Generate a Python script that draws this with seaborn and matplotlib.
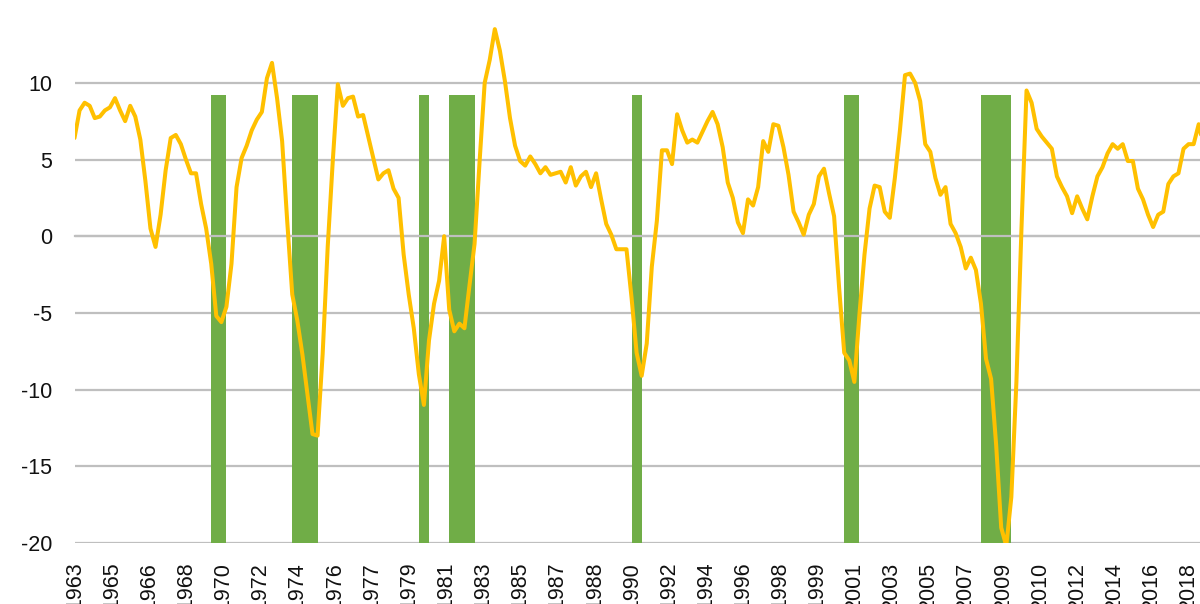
import numpy as np
import pandas as pd
import matplotlib
matplotlib.use("Agg")
import matplotlib.pyplot as plt
import seaborn as sns

# ---- data (quarterly, starting 1963Q1) ----
start_quarter = "1963Q1"
values = [
    6.4, 8.2, 8.7, 8.5, 7.7, 7.8, 8.2, 8.4, 9.0, 8.2,
    7.5, 8.5, 7.8, 6.3, 3.6, 0.5, -0.7, 1.4, 4.3, 6.4,
    6.6, 6.0, 5.0, 4.1, 4.1, 2.1, 0.5, -1.8, -5.2, -5.6,
    -4.6, -1.8, 3.2, 5.1, 5.9, 6.9, 7.6, 8.1, 10.3, 11.3,
    9.0, 6.2, 1.0, -3.8, -5.5, -7.7, -10.3, -12.9, -13.0, -7.7,
    -0.7, 4.9, 9.9, 8.5, 9.0, 9.1, 7.8, 7.9, 6.5, 5.1,
    3.7, 4.1, 4.3, 3.1, 2.5, -1.2, -3.8, -6.0, -9.0, -11.0,
    -6.8, -4.4, -2.9, 0.0, -4.8, -6.2, -5.7, -6.0, -3.2, -0.5,
    4.9, 10.0, 11.5, 13.5, 12.1, 10.1, 7.7, 5.9, 4.9, 4.6,
    5.2, 4.7, 4.1, 4.5, 4.0, 4.1, 4.2, 3.5, 4.5, 3.3,
    3.9, 4.2, 3.2, 4.1, 2.4, 0.8, 0.1, -0.85, -0.85, -0.85,
    -4.0, -7.6, -9.1, -7.0, -2.0, 1.0, 5.6, 5.6, 4.7, 7.95,
    6.9, 6.1, 6.3, 6.1, 6.8, 7.5, 8.1, 7.3, 5.8, 3.5,
    2.5, 0.9, 0.2, 2.4, 2.0, 3.2, 6.2, 5.5, 7.3, 7.2,
    5.8, 4.0, 1.6, 0.9, 0.1, 1.4, 2.1, 3.9, 4.4, 2.8,
    1.3, -3.4, -7.6, -8.1, -9.5, -5.1, -1.2, 1.8, 3.3, 3.2,
    1.6, 1.2, 3.8, 6.9, 10.5, 10.6, 10.0, 8.8, 6.0, 5.5,
    3.8, 2.7, 3.2, 0.8, 0.2, -0.7, -2.1, -1.4, -2.2, -4.4,
    -8.0, -9.3, -13.6, -19.0, -20.2, -17.0, -9.5, 0.5, 9.5, 8.7,
    7.0, 6.5, 6.1, 5.7, 3.9, 3.2, 2.6, 1.5, 2.6, 1.8,
    1.1, 2.6, 3.9, 4.5, 5.4, 6.0, 5.7, 6.0, 4.9, 4.9,
    3.1, 2.4, 1.4, 0.6, 1.4, 1.6, 3.4, 3.9, 4.1, 5.7,
    6.0, 6.0, 7.3, 5.8,
]

recession_starts = ["1969-12", "1973-12", "1980-03", "1981-09", "1990-09", "2001-03", "2007-12"]
recession_ends = ["1970-09", "1975-03", "1980-09", "1982-12", "1991-03", "2001-12", "2009-06"]
recession_bar_top = 9.2

tick_labels = ["1963", "1965", "1966", "1968", "1970", "1972", "1974", "1976", "1977",
               "1979", "1981", "1983", "1985", "1987", "1988", "1990", "1992", "1994",
               "1996", "1998", "1999", "2001", "2003", "2005", "2007", "2009", "2010",
               "2012", "2014", "2016", "2018"]
tick_step_months = 22
y_ticks = [-20, -15, -10, -5, 0, 5, 10]

# ---- derived positions (months since first quarter-end, March 1963) ----
quarters = pd.period_range(start_quarter, periods=len(values), freq="Q")
base = pd.Period("1963-03", freq="M")


def month_offset(p):
    return (p.year - base.year) * 12 + (p.month - base.month)


x_months = np.array([month_offset(q.asfreq("M", how="end")) for q in quarters])
df = pd.DataFrame({"month": x_months, "value": values})

rec_start = np.array([month_offset(pd.Period(s, freq="M")) for s in recession_starts])
rec_end = np.array([month_offset(pd.Period(s, freq="M")) for s in recession_ends])
tick_pos = np.arange(len(tick_labels)) * tick_step_months

# ---- styling ----
sns.set_style("white")
plt.rcParams["font.family"] = ["Liberation Sans", "DejaVu Sans"]

W, H = 1200, 604
fig = plt.figure(figsize=(W / 100, H / 100), dpi=100)
left_px, bottom_px = 74.5, 543.0
px_per_unit = 15.34
y_lo, y_hi = -20, 14.0
px_per_month = 1.688
ax = fig.add_axes([left_px / W, (H - bottom_px) / H,
                   1 - left_px / W, (y_hi - y_lo) * px_per_unit / H])

grid_color = "#BFBFBF"

# recession bars
ax.bar(rec_start, recession_bar_top - y_lo, width=rec_end - rec_start,
       bottom=y_lo, align="edge", color="#70AD47", linewidth=0, zorder=1)

# main line
sns.lineplot(data=df, x="month", y="value", color="#FFC000", linewidth=2.9,
             ax=ax, zorder=3)

ax.set_xlim(0, (W - left_px) / px_per_month)
ax.set_ylim(y_lo, y_hi)
ax.set_xlabel("")
ax.set_ylabel("")

# y axis: gridlines and labels
ax.set_yticks(y_ticks)
ax.set_yticklabels([str(v) for v in y_ticks])
ax.yaxis.grid(True, color=grid_color, linewidth=1.6)
ax.tick_params(axis="y", length=0, pad=16, labelsize=15.5, labelcolor="#111111")

# spines
for s in ["top", "right", "left"]:
    ax.spines[s].set_visible(False)
ax.spines["bottom"].set_position(("data", 0))
ax.spines["bottom"].set_color(grid_color)
ax.spines["bottom"].set_linewidth(1.6)
ax.spines["bottom"].set_zorder(2.5)

# x tick marks on the zero line, labels at the bottom
ax.set_axisbelow(True)
ax.set_xticks(tick_pos)
ax.tick_params(axis="x", direction="out", length=6, width=1.6, color=grid_color,
               labelbottom=False)
ax.xaxis.set_zorder(2.2)

sec = ax.secondary_xaxis(0.0)
sec.set_xticks(tick_pos, labels=tick_labels, rotation=90)
sec.tick_params(length=0, pad=13.5, labelsize=15.5, labelcolor="#111111")
sec.spines["bottom"].set_visible(False)

fig.savefig("out.png", dpi=100)
